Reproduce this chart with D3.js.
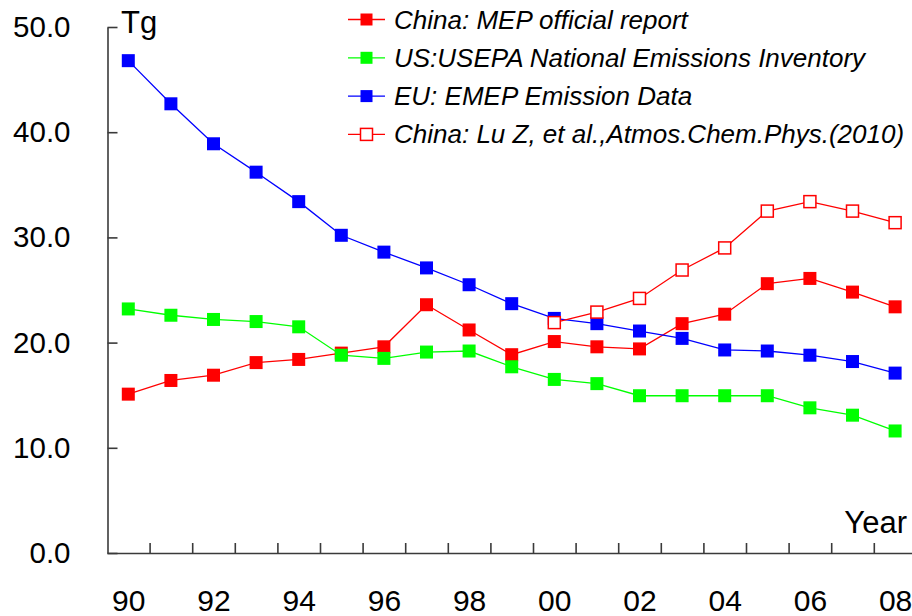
<!DOCTYPE html>
<html lang="en">
<head>
    <meta charset="UTF-8">
    <script src="https://d3js.org/d3.v7.min.js"></script>
    <style>
        body { margin: 0; background: #fff; }
        text { font-family: "Liberation Sans", Arial, sans-serif; }
    </style>
</head>
<body>
    <svg id="chart" width="912" height="616"></svg>
    <script>
        // Years 1990 - 2008
        const years = d3.range(1990, 2009);
        const yearsLu = d3.range(2000, 2009);

        const chinaMEP = [15.1, 16.4, 16.9, 18.1, 18.4, 19.0, 19.6, 23.6, 21.2, 18.85,
                          20.1, 19.6, 19.4, 21.8, 22.7, 25.6, 26.1, 24.8, 23.4];
        const usEPA = [23.2, 22.6, 22.2, 22.0, 21.5, 18.8, 18.5, 19.1, 19.2, 17.7,
                       16.5, 16.1, 14.95, 14.95, 14.95, 14.95, 13.8, 13.1, 11.6];
        const euEMEP = [46.8, 42.7, 38.9, 36.2, 33.4, 30.2, 28.6, 27.1, 25.5, 23.7,
                        22.3, 21.8, 21.1, 20.4, 19.3, 19.2, 18.8, 18.2, 17.1];
        const chinaLu = [21.9, 22.9, 24.2, 26.9, 29.0, 32.5, 33.4, 32.5, 31.4];

        const yTicks = [0, 10, 20, 30, 40, 50];
        const xLabelYears = [1990, 1992, 1994, 1996, 1998, 2000, 2002, 2004, 2006, 2008];

        const series = [
            { name: "China: MEP official report", years: years, values: chinaMEP, color: "#ff0000", hollow: false },
            { name: "US:USEPA National Emissions Inventory", years: years, values: usEPA, color: "#00ff00", hollow: false },
            { name: "EU: EMEP Emission Data", years: years, values: euEMEP, color: "#0000ff", hollow: false },
            { name: "China: Lu Z, et al.,Atmos.Chem.Phys.(2010)", years: yearsLu, values: chinaLu, color: "#ff0000", hollow: true }
        ];

        const margin = { left: 107.5, bottom: 553, top: 27 };
        const step = 42.6;

        const svg = d3.select("#chart");

        // x: one slot per year, ticks sit between years
        const x = d3.scaleLinear()
            .domain([1989.5, 2008.5])
            .range([margin.left - 0.5, margin.left - 0.5 + 19 * step]);

        const y = d3.scaleLinear()
            .domain([0, 50])
            .range([margin.bottom, margin.top]);

        const axisColor = "#3a3a3a";

        // X axis - tick marks
        const xAxis = svg.append("g")
            .attr("transform", `translate(0,${margin.bottom})`)
            .call(d3.axisBottom(x)
                .tickValues(years.map(d => d + 0.5))
                .tickSize(-10)
                .tickSizeOuter(0)
                .tickFormat(""));
        xAxis.selectAll("path, line").attr("stroke", axisColor).attr("stroke-width", 1.6);

        // X axis - labels
        const xLab = svg.append("g")
            .attr("transform", `translate(0,${margin.bottom})`)
            .call(d3.axisBottom(x)
                .tickValues(xLabelYears)
                .tickSize(0)
                .tickPadding(37)
                .tickFormat(d => String(d).slice(2)));
        xLab.select(".domain").remove();
        xLab.selectAll("text")
            .style("font-size", "30px")
            .attr("fill", "#000");

        // Y axis
        const yAxis = svg.append("g")
            .attr("transform", `translate(${margin.left},0)`)
            .call(d3.axisLeft(y)
                .tickValues(yTicks)
                .tickSize(-10)
                .tickSizeOuter(0)
                .tickPadding(37)
                .tickFormat(d3.format(".1f")));
        yAxis.selectAll("path, line").attr("stroke", axisColor).attr("stroke-width", 1.6);
        yAxis.selectAll("text")
            .style("font-size", "29.5px")
            .attr("fill", "#000");

        // Axis titles
        svg.append("text")
            .attr("x", 121)
            .attr("y", 33)
            .style("font-size", "31px")
            .text("Tg");

        svg.append("text")
            .attr("x", 907)
            .attr("y", 533)
            .attr("text-anchor", "end")
            .style("font-size", "31px")
            .text("Year");

        const line = d3.line()
            .x(d => x(d[0]))
            .y(d => y(d[1]));

        const markSize = 13;

        series.forEach(s => {
            const pts = s.years.map((yr, i) => [yr, s.values[i]]);
            const g = svg.append("g");

            g.append("path")
                .datum(pts)
                .attr("fill", "none")
                .attr("stroke", s.color)
                .attr("stroke-width", 1.3)
                .attr("d", line);

            g.selectAll("rect")
                .data(pts)
                .enter().append("rect")
                .attr("x", d => x(d[0]) - markSize / 2)
                .attr("y", d => y(d[1]) - markSize / 2)
                .attr("width", s.hollow ? markSize - 1 : markSize)
                .attr("height", s.hollow ? markSize - 1 : markSize)
                .attr("transform", s.hollow ? "translate(0.5,0.5)" : null)
                .attr("fill", s.hollow ? "#fff" : s.color)
                .attr("stroke", s.color)
                .attr("stroke-width", s.hollow ? 1.5 : 0);
        });

        // Legend
        const legend = svg.append("g").attr("transform", "translate(348,19.5)");
        const rowH = 38.3;

        series.forEach((s, i) => {
            const row = legend.append("g").attr("transform", `translate(0,${i * rowH})`);
            row.append("line")
                .attr("x1", 0).attr("x2", 37)
                .attr("stroke", s.color)
                .attr("stroke-width", 1.3);
            row.append("rect")
                .attr("x", 18.5 - 6).attr("y", -6)
                .attr("width", 12).attr("height", 12)
                .attr("fill", s.hollow ? "#fff" : s.color)
                .attr("stroke", s.color)
                .attr("stroke-width", s.hollow ? 1.5 : 0);
            row.append("text")
                .attr("x", 46)
                .attr("y", 9)
                .style("font-size", "26px")
                .style("font-style", "italic")
                .text(s.name);
        });
    </script>
</body>
</html>
